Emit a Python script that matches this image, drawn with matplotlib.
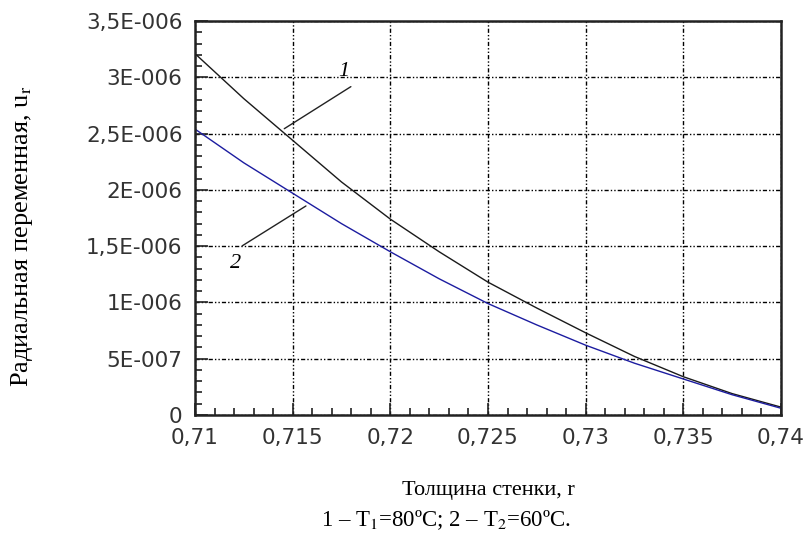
import matplotlib
matplotlib.use("Agg")
import matplotlib.pyplot as plt
from matplotlib.ticker import MultipleLocator

# Данные
r = [0.71, 0.7125, 0.715, 0.7175, 0.72, 0.7225, 0.725, 0.7275, 0.73, 0.7325, 0.735, 0.7375, 0.74]
u1 = [3.21, 2.81, 2.44, 2.07, 1.74, 1.45, 1.18, 0.95, 0.73, 0.52, 0.34, 0.19, 0.07]  # T1 = 80 C, *1e-6
u2 = [2.54, 2.24, 1.97, 1.70, 1.45, 1.21, 0.99, 0.80, 0.62, 0.46, 0.32, 0.18, 0.06]  # T2 = 60 C, *1e-6
u1 = [v * 1e-6 for v in u1]
u2 = [v * 1e-6 for v in u2]

x_ticks = [0.71, 0.715, 0.72, 0.725, 0.73, 0.735, 0.74]
x_labels = ["0,71", "0,715", "0,72", "0,725", "0,73", "0,735", "0,74"]
y_ticks = [0, 0.5e-6, 1e-6, 1.5e-6, 2e-6, 2.5e-6, 3e-6, 3.5e-6]
y_labels = ["0", "5E-007", "1E-006", "1,5E-006", "2E-006", "2,5E-006", "3E-006", "3,5E-006"]

plt.rcParams["mathtext.fontset"] = "stix"
serif = "Liberation Serif"

fig = plt.figure(figsize=(8.08, 5.40), dpi=100)
ax = fig.add_axes([195 / 808, 1 - 415 / 540, 586 / 808, 394 / 540])

ax.plot(r, u1, color="#1a1a1a", lw=1.0)
ax.plot(r, u2, color="#1c1ca0", lw=1.0)

ax.set_xlim(0.71, 0.74)
ax.set_ylim(0, 3.5e-6)
ax.set_xticks(x_ticks)
ax.set_xticklabels(x_labels)
ax.set_yticks(y_ticks)
ax.set_yticklabels(y_labels)
ax.xaxis.set_minor_locator(MultipleLocator(0.001))
ax.yaxis.set_minor_locator(MultipleLocator(0.1e-6))

ax.tick_params(which="both", direction="in", top=False, right=False,
               labelsize=15.5, pad=9, colors="#222222")
ax.tick_params(which="major", length=9, width=1.2)
ax.tick_params(which="minor", length=5, width=1.2)
for lab in ax.get_xticklabels() + ax.get_yticklabels():
    lab.set_fontfamily("DejaVu Sans")
    lab.set_color("#333333")

for s in ax.spines.values():
    s.set_linewidth(1.8)
    s.set_color("#222222")

ax.grid(True, which="major", color="black", lw=1.0, linestyle=(0, (3, 1.5, 1, 1.5, 1, 1.5)))

# подписи кривых
ax.text(0.7176, 2.97e-6, "1", fontsize=16, fontstyle="italic", family=serif, ha="center", va="bottom")
ax.annotate("", xy=(0.71445, 2.53e-6), xytext=(0.7181, 2.93e-6),
            arrowprops=dict(arrowstyle="-", color="#222222", lw=1.0))
ax.text(0.7121, 1.35e-6, "2", fontsize=16, fontstyle="italic", family=serif, ha="center", va="center")
ax.annotate("", xy=(0.7158, 1.87e-6), xytext=(0.7123, 1.49e-6),
            arrowprops=dict(arrowstyle="-", color="#222222", lw=1.0))

fig.text(22 / 808, 1 - 236 / 540, r"Радиальная переменная, u$_{\mathrm{r}}$", rotation=90,
         family=serif, fontsize=19, ha="center", va="center")
fig.text(488 / 808, 1 - 490 / 540, "Толщина стенки, r", family=serif, fontsize=16,
         ha="center", va="center")
fig.text(446 / 808, 1 - 520 / 540, r"1 – T$_1$=80ºC; 2 – T$_2$=60ºC.", family=serif,
         fontsize=16.5, ha="center", va="center")

fig.savefig("out.png", dpi=100)
